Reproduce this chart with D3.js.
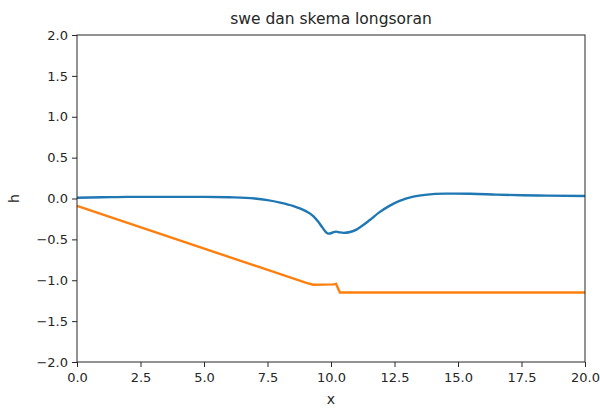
<!DOCTYPE html>
<html><head><meta charset="utf-8">
<script src="https://cdn.jsdelivr.net/npm/d3@7"></script>
<style>body{margin:0;background:#fff}svg{display:block}text{font-family:"DejaVu Sans",sans-serif;fill:#262626}</style>
</head><body><svg id="c" width="600" height="408"></svg>
<script>
const title = "swe dan skema longsoran";
const xLabel = "x";
const yLabel = "h";
const xTicks = [0, 2.5, 5, 7.5, 10, 12.5, 15, 17.5, 20];
const yTicks = [-2, -1.5, -1, -0.5, 0, 0.5, 1, 1.5, 2];
const blueX = [0, 1, 2, 3, 4, 5, 6, 7, 7.5, 8.0, 8.5, 8.8, 9.1, 9.3, 9.5, 9.65, 9.8, 9.9, 10.0, 10.1, 10.2, 10.35, 10.5, 10.75, 11.0, 11.2, 11.5, 11.9, 12.3, 12.7, 13.2, 13.7, 14.5, 15.5, 16.5, 17.5, 18.5, 20];
const blueH = [0.01, 0.015, 0.02, 0.02, 0.02, 0.02, 0.015, 0.0, -0.02, -0.05, -0.09, -0.125, -0.17, -0.215, -0.285, -0.35, -0.41, -0.43, -0.425, -0.41, -0.405, -0.415, -0.42, -0.41, -0.38, -0.34, -0.27, -0.17, -0.09, -0.03, 0.02, 0.045, 0.06, 0.058, 0.048, 0.04, 0.035, 0.03];
const orangeX = [0, 9.0, 9.3, 10.1, 10.2, 10.35, 20];
const orangeH = [-0.09, -1.03, -1.055, -1.05, -1.045, -1.15, -1.15];

const svg = d3.select("#c");
const m = {l: 77, r: 15, t: 35, b: 46};
const W = 600, H = 408;
const x = d3.scaleLinear().domain([0, 20]).range([m.l, W - m.r]);
const y = d3.scaleLinear().domain([-2, 2]).range([H - m.b, m.t]);

const line = d3.line().x(d => x(d[0])).y(d => y(d[1])).curve(d3.curveMonotoneX);
const blue = blueX.map((v, i) => [v, blueH[i]]);
const orange = orangeX.map((v, i) => [v, orangeH[i]]);

svg.append("path").datum(blue).attr("d", line).attr("fill", "none").attr("stroke", "#1f77b4").attr("stroke-width", 2.4);
svg.append("path").datum(orange).attr("d", d3.line().x(d => x(d[0])).y(d => y(d[1]))).attr("fill", "none").attr("stroke", "#ff7f0e").attr("stroke-width", 2.4);

const fmt = d3.format(".1f");
const xa = svg.append("g").attr("transform", `translate(0,${H - m.b})`)
  .call(d3.axisBottom(x).tickValues(xTicks).tickFormat(fmt).tickSize(5).tickSizeOuter(0));
const ya = svg.append("g").attr("transform", `translate(${m.l},0)`)
  .call(d3.axisLeft(y).tickValues(yTicks).tickFormat(d => fmt(d).replace("-", "\u2212")).tickSize(5).tickSizeOuter(0));
[xa, ya].forEach(a => {
  a.selectAll("text").style("font-family", '"DejaVu Sans",sans-serif').style("font-size", "13px").attr("fill", "#262626");
  a.selectAll("line").attr("stroke", "#262626");
  a.select(".domain").remove();
});
xa.selectAll("text").attr("dy", "0.95em");
ya.selectAll("text").attr("dx", "-1px");

svg.append("rect").attr("x", m.l).attr("y", m.t).attr("width", W - m.r - m.l).attr("height", H - m.b - m.t)
  .attr("fill", "none").attr("stroke", "#262626").attr("stroke-width", 1);

svg.append("text").attr("x", (m.l + W - m.r) / 2).attr("y", 24).attr("text-anchor", "middle").style("font-size", "15.5px").text(title);
svg.append("text").attr("x", (m.l + W - m.r) / 2).attr("y", 404).attr("text-anchor", "middle").style("font-size", "14px").text(xLabel);
svg.append("text").attr("transform", `translate(19,${y(0)}) rotate(-90)`).attr("text-anchor", "middle").style("font-size", "14px").text(yLabel);
</script></body></html>
